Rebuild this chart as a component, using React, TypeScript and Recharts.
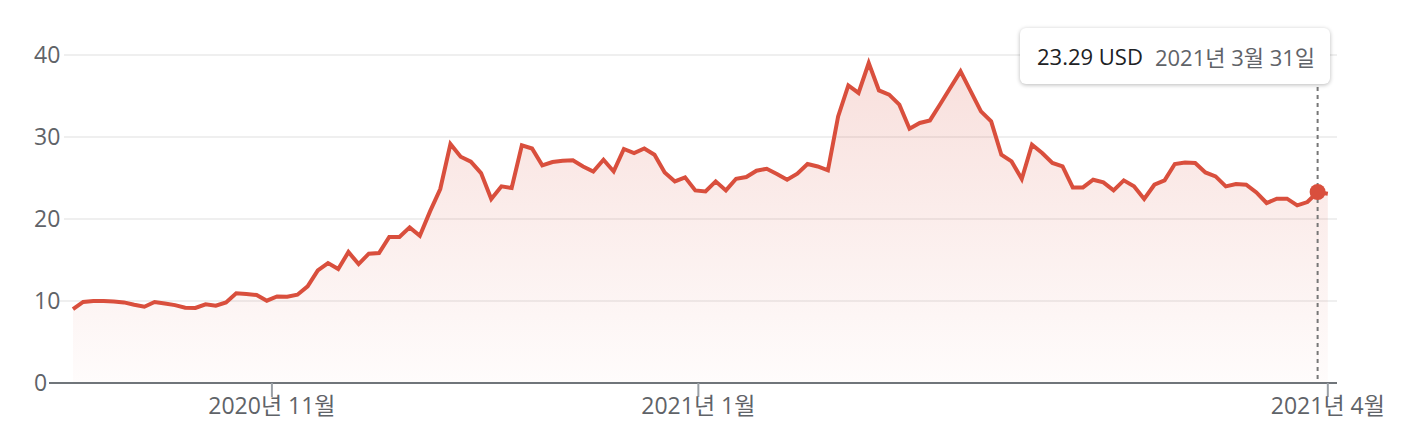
import React from 'react';
import { AreaChart, Area, XAxis, YAxis, CartesianGrid, Tooltip } from 'recharts';

// daily closes (USD)
const prices = [
  9.0, 9.88, 10.0, 10.0, 9.95, 9.83, 9.55, 9.3, 9.88, 9.7,
  9.5, 9.18, 9.15, 9.6, 9.43, 9.83, 10.93, 10.85, 10.73, 10.04,
  10.56, 10.52, 10.77, 11.78, 13.73, 14.63, 13.9, 15.97, 14.5, 15.77,
  15.85, 17.8, 17.8, 18.98, 17.96, 20.93, 23.66, 29.15, 27.6, 27.0,
  25.6, 22.44, 23.98, 23.78, 28.98, 28.6, 26.54, 26.95, 27.1, 27.15,
  26.4, 25.8, 27.23, 25.8, 28.54, 28.05, 28.6, 27.84, 25.68, 24.58,
  25.08, 23.49, 23.37, 24.59, 23.49, 24.91, 25.12, 25.89, 26.13, 25.49,
  24.79, 25.52, 26.7, 26.41, 25.93, 32.51, 36.29, 35.37, 39.02, 35.68,
  35.16, 33.94, 31.01, 31.71, 32.02, 34.0, 36.0, 38.0, 35.56, 33.12,
  31.9, 27.84, 27.02, 24.88, 29.06, 28.05, 26.83, 26.41, 23.85, 23.85,
  24.79, 24.46, 23.49, 24.71, 23.98, 22.44, 24.18, 24.71, 26.7, 26.9,
  26.83, 25.68, 25.2, 23.98, 24.27, 24.18, 23.24, 21.95, 22.48, 22.48,
  21.66, 22.07, 23.29, 23.08,
];

const xTickPositions = [19.5, 61.3, 123];
const xTickLabels = ['2020년 11월', '2021년 1월', '2021년 4월'];
const yTicks = [0, 10, 20, 30, 40];

const hoverIndex = 122;
const hoverDate = '2021년 3월 31일';

const data = prices.map((price, i) => ({ i, price }));

const FONT = '"Open Sans", "Noto Sans CJK KR", sans-serif';
const RED = '#d94f3d';
const TEXT = '#5f6368';

const labelWidth = (s: string) =>
  s.split('').reduce((w, c) => w + (c === '1' ? 10 : 14.5), 0);

function YTick(props: any) {
  const { y, payload } = props;
  return (
    <text x={34} y={y} dy={8} textAnchor="start" fill={TEXT} fontSize={23} fontFamily={FONT}>
      {payload.value}
    </text>
  );
}

function GridLine(props: any) {
  const { y, height, y1, x2 } = props;
  const value = Math.round((40 * (y + height - y1)) / height);
  if (value === 0) return <g />;
  const x1 = 34 + labelWidth(String(value)) + 1;
  return <line x1={x1} x2={x2} y1={y1} y2={y1} stroke="#efefef" strokeWidth={2} />;
}

function TipBox({ active, payload }: any) {
  if (!active || !payload || !payload.length) return null;
  const v = payload[0].value as number;
  return (
    <div
      style={{
        width: 310,
        height: 56,
        boxSizing: 'border-box',
        background: '#fff',
        borderRadius: 6,
        boxShadow: '0 1px 4px rgba(0,0,0,0.28)',
        display: 'flex',
        alignItems: 'center',
        paddingLeft: 17,
        fontFamily: FONT,
        fontSize: 22,
        whiteSpace: 'nowrap',
      }}
    >
      <span style={{ color: '#202124' }}>{v.toFixed(2)} USD</span>
      <span style={{ color: TEXT, marginLeft: 12 }}>{hoverDate}</span>
    </div>
  );
}

export default function App() {
  return (
    <div style={{ position: 'absolute', left: 0, top: 0, width: 1422, height: 448, background: '#fff' }}>
      <AreaChart
        width={1422}
        height={448}
        data={data}
        margin={{ top: 55, right: 85, left: 0, bottom: 25 }}
      >
        <defs>
          <linearGradient id="priceFill" x1="0" y1="0" x2="0" y2="1">
            <stop offset="0%" stopColor={RED} stopOpacity={0.3} />
            <stop offset="100%" stopColor={RED} stopOpacity={0.03} />
          </linearGradient>
        </defs>
        <CartesianGrid vertical={false} horizontal={(p: any) => <GridLine key={p.key} {...p} />} />
        <XAxis
          type="number"
          dataKey="i"
          domain={[-2.35, 123.9]}
          allowDataOverflow
          ticks={xTickPositions}
          interval={0}
          tickFormatter={(v: number) => xTickLabels[xTickPositions.indexOf(v)]}
          height={40}
          tickSize={14}
          tickMargin={1}
          axisLine={{ stroke: '#70757a', strokeWidth: 2 }}
          tickLine={{ stroke: '#9aa0a6', strokeWidth: 2 }}
          tick={{ fill: TEXT, fontSize: 23, fontFamily: FONT }}
        />
        <YAxis
          type="number"
          domain={[0, 40]}
          ticks={yTicks}
          width={49}
          axisLine={false}
          tickLine={false}
          tick={<YTick />}
          interval={0}
        />
        <Tooltip
          defaultIndex={hoverIndex}
          isAnimationActive={false}
          position={{ x: 1020, y: 28 }}
          cursor={{ stroke: '#777', strokeWidth: 2, strokeDasharray: '4 4' }}
          content={<TipBox />}
          wrapperStyle={{ outline: 'none' }}
        />
        <Area
          type="linear"
          dataKey="price"
          stroke={RED}
          strokeWidth={4}
          fill="url(#priceFill)"
          dot={false}
          activeDot={{ r: 8, fill: RED, stroke: 'none' }}
          isAnimationActive={false}
        />
      </AreaChart>
    </div>
  );
}
